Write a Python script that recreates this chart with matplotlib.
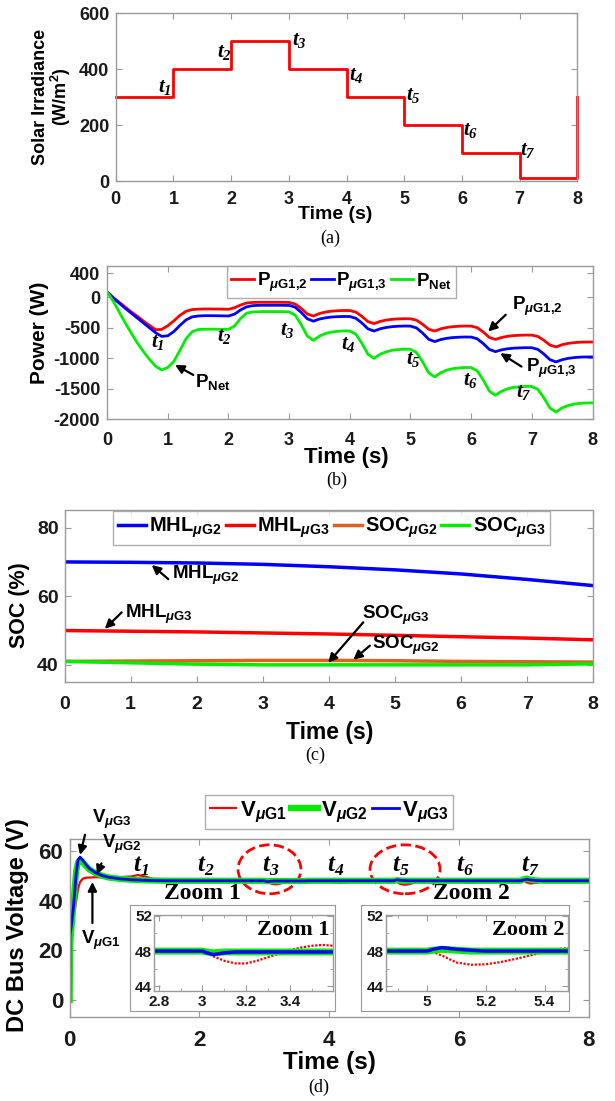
import numpy as np
import matplotlib
matplotlib.use("Agg")
import matplotlib.pyplot as plt
from matplotlib.patches import Ellipse

# -----------------------------
# Data
# -----------------------------
irr_time = [0, 1, 2, 3, 4, 5, 6, 7, 8]
irr_vals = [300, 400, 500, 400, 300, 200, 100, 10, 300]

power_time = np.round(np.arange(0, 8.01, 0.1), 1)
p_g12 = [90, 0, -80, -160, -240, -310, -390, -460, -530, -525,
         -465, -385, -295, -228, -200, -193, -190, -190, -191, -193,
         -195, -170, -125, -92, -83, -80, -80, -80, -80, -81,
         -82, -109, -182, -272, -305, -265, -240, -226, -219, -215,
         -216, -241, -312, -398, -430, -394, -372, -360, -353, -350,
         -351, -374, -441, -522, -552, -515, -493, -480, -473, -470,
         -471, -496, -569, -657, -690, -658, -638, -627, -621, -618,
         -619, -641, -705, -783, -812, -776, -754, -742, -735, -732,
         -732]
p_g13 = [90, -10, -95, -180, -260, -340, -420, -500, -580, -640,
         -630, -560, -460, -370, -320, -305, -300, -300, -301, -303,
         -305, -275, -205, -155, -135, -130, -129, -129, -129, -130,
         -131, -161, -247, -351, -390, -355, -335, -322, -316, -313,
         -314, -342, -421, -516, -552, -515, -493, -480, -473, -470,
         -471, -501, -585, -687, -725, -691, -671, -659, -653, -650,
         -651, -679, -758, -854, -890, -861, -843, -833, -828, -825,
         -826, -853, -930, -1023, -1058, -1022, -1000, -987, -980, -977,
         -977]
p_net = [90, -60, -240, -420, -590, -750, -890, -1020, -1130, -1190,
         -1150, -1050, -870, -680, -565, -528, -522, -521, -522, -524,
         -525, -470, -345, -258, -238, -235, -233, -233, -233, -235,
         -237, -291, -447, -635, -705, -635, -593, -569, -556, -550,
         -552, -604, -753, -933, -1000, -933, -892, -868, -856, -850,
         -852, -905, -1055, -1237, -1305, -1235, -1193, -1169, -1157, -1150,
         -1152, -1205, -1355, -1537, -1605, -1540, -1501, -1477, -1466, -1460,
         -1462, -1510, -1649, -1817, -1880, -1813, -1773, -1750, -1738, -1732,
         -1730]

soc_time = [0, 1, 2, 3, 4, 5, 6, 7, 8]
mhl_g2 = [70.0, 69.9, 69.7, 69.3, 68.6, 67.7, 66.5, 64.9, 63.1]
mhl_g3 = [50.0, 49.8, 49.6, 49.3, 49.0, 48.6, 48.2, 47.8, 47.3]
soc_g2 = [41.0, 41.1, 41.2, 41.3, 41.3, 41.2, 41.0, 40.9, 40.8]
soc_g3 = [41.0, 40.6, 40.2, 40.0, 40.0, 40.0, 40.0, 40.0, 40.3]

v_time = [0, 0.005, 0.03, 0.06, 0.1, 0.13, 0.16, 0.2, 0.25, 0.3,
          0.4, 0.5, 0.6, 0.8, 0.95, 1.05, 1.15, 1.3, 1.5, 1.95,
          2.05, 2.2, 2.5, 2.9, 3.0, 3.02, 3.05, 3.1, 3.15, 3.2,
          3.25, 3.3, 3.35, 3.4, 3.45, 3.5, 3.55, 3.6, 3.7, 3.9,
          4.0, 4.05, 4.15, 4.25, 4.35, 4.5, 4.9, 5.0, 5.02, 5.05,
          5.1, 5.15, 5.2, 5.25, 5.3, 5.35, 5.4, 5.45, 5.5, 5.6,
          5.8, 6.0, 6.05, 6.15, 6.25, 6.35, 6.5, 6.95, 7.0, 7.05,
          7.1, 7.2, 7.3, 7.5, 8.0]
v_g1 = [0, 18, 28, 33, 40, 45, 47.5, 48.8, 49.2, 49.3,
        49.4, 49.4, 49.4, 49.5, 49.7, 50.3, 49.8, 48.6, 48.0, 48.0,
        47.6, 47.9, 48.0, 48.0, 48.0, 47.8, 47.4, 46.9, 46.6, 46.6,
        46.9, 47.3, 47.7, 48.1, 48.4, 48.6, 48.7, 48.6, 48.3, 48.0,
        48.0, 47.5, 47.1, 47.3, 47.8, 48.1, 48.0, 48.0, 47.9, 47.5,
        46.7, 46.45, 46.5, 46.75, 47.1, 47.5, 47.9, 48.25, 48.4, 48.3,
        48.0, 48.0, 47.6, 47.2, 47.4, 47.8, 48.1, 48.0, 48.0, 47.3,
        46.9, 47.2, 47.8, 48.1, 48.0]
v_g2 = [0, 22, 30, 40, 52, 55.5, 56.2, 55.5, 54.0, 52.6,
        51.0, 50.0, 49.3, 48.7, 48.4, 48.3, 48.2, 48.1, 48.0, 48.0,
        48.0, 48.0, 48.0, 48.0, 48.0, 47.9, 47.8, 47.9, 47.9, 47.9,
        47.9, 47.9, 47.9, 47.9, 47.9, 47.9, 47.9, 47.9, 48.0, 48.0,
        48.0, 48.0, 48.0, 48.0, 48.0, 48.0, 48.0, 48.0, 48.1, 48.2,
        48.1, 48.0, 48.0, 48.0, 48.0, 48.0, 48.0, 48.0, 48.0, 48.0,
        48.0, 48.0, 48.0, 48.0, 48.0, 48.0, 48.0, 48.0, 48.6, 48.9,
        48.4, 48.1, 48.0, 48.0, 48.0]
v_g3 = [0, 26, 31, 38, 51, 56.5, 57.5, 56.3, 54.5, 53.0,
        51.2, 50.1, 49.4, 48.7, 48.4, 48.3, 48.2, 48.1, 48.0, 48.0,
        48.0, 48.0, 48.0, 48.0, 48.0, 47.8, 47.6, 47.8, 47.9, 47.9,
        47.9, 47.9, 47.9, 47.9, 47.9, 47.9, 47.9, 47.9, 48.0, 48.0,
        48.0, 48.0, 48.0, 48.0, 48.0, 48.0, 48.0, 48.0, 48.2, 48.4,
        48.2, 48.1, 48.0, 48.0, 48.0, 48.0, 48.0, 48.0, 48.0, 48.0,
        48.0, 48.0, 48.0, 48.0, 48.0, 48.0, 48.0, 48.0, 48.3, 48.6,
        48.3, 48.1, 48.0, 48.0, 48.0]

# -----------------------------
# Style
# -----------------------------
plt.rcParams["font.family"] = "Liberation Sans"
plt.rcParams["font.weight"] = "bold"
plt.rcParams["axes.labelweight"] = "bold"
plt.rcParams["axes.unicode_minus"] = False
plt.rcParams["mathtext.fontset"] = "custom"
plt.rcParams["mathtext.rm"] = "Liberation Sans:bold"
plt.rcParams["mathtext.bf"] = "Liberation Sans:bold"
plt.rcParams["mathtext.it"] = "Liberation Sans:italic:bold"
plt.rcParams["mathtext.sf"] = "Liberation Serif:italic:bold"

GRAY = "#9a9a9a"
RED, BLUE, GREEN, ORANGE = "#ff0000", "#0000ff", "#00ee00", "#e0601e"
W, H = 615, 1101

fig = plt.figure(figsize=(6.15, 11.01), dpi=100)


def px_axes(left, top, right, bottom):
    return fig.add_axes([left / W, 1 - bottom / H, (right - left) / W, (bottom - top) / H])


def style(ax, size, xpad, ypad):
    ax.tick_params(direction="in", top=True, right=True, length=4, width=0.8,
                   color=GRAY, labelsize=size, labelcolor="#1a1a1a")
    ax.tick_params(axis="x", pad=xpad)
    ax.tick_params(axis="y", pad=ypad)
    for t in ax.get_xticklabels() + ax.get_yticklabels():
        t.set_fontweight("bold")
    for s in ax.spines.values():
        s.set_color(GRAY)
        s.set_linewidth(1.0)


def arrow(ax, head, tail, lw=1.6):
    ax.annotate("", xy=head, xytext=tail, annotation_clip=False,
                arrowprops=dict(arrowstyle="-|>", color="black", lw=lw,
                                mutation_scale=13, shrinkA=0, shrinkB=0))


def caption(x, y, s):
    fig.text(x / W, 1 - y / H, s, family="Liberation Serif", weight="normal",
             size=13, ha="center", va="center")


tsub = [r"$\mathsf{t}_{\mathsf{%d}}$" % k for k in range(1, 8)]

# -----------------------------
# (a) Solar irradiance
# -----------------------------
ax = px_axes(115.7, 13, 577.3, 181)
ax.step(irr_time, irr_vals, where="post", color=RED, lw=2, clip_on=False)
ax.set_xlim(0, 8)
ax.set_ylim(0, 600)
ax.set_yticks([0, 200, 400, 600])
style(ax, 13, 7.5, 4.5)
ax.set_xlabel("Time (s)", fontsize=14)
ax.set_ylabel("Solar Irradiance\n(W/m$^\\mathrm{2}$)", fontsize=13, linespacing=1.0)
ax.yaxis.set_label_coords(-0.0925, 0.5)
ax.xaxis.set_label_coords(0.475, -0.15)
ta_pos = [(0.86, 331), (1.88, 456), (3.18, 497), (4.17, 372), (5.16, 301), (6.15, 176), (7.14, 105)]
for lab, (x, y) in zip(tsub, ta_pos):
    ax.text(x, y, lab, fontsize=15, ha="center", va="center")
caption(330, 238, "(a)")

# -----------------------------
# (b) Power
# -----------------------------
ax = px_axes(107.1, 265.7, 592.5, 419.3)
ax.plot(power_time, p_g12, color=RED, lw=2, label="P$_{\\mathit{μ}\\mathrm{G1{,}2}}$")
ax.plot(power_time, p_g13, color=BLUE, lw=2, label="P$_{\\mathit{μ}\\mathrm{G1{,}3}}$")
ax.plot(power_time, p_net, color=GREEN, lw=2, label="P$_{\\mathrm{Net}}$")
ax.set_xlim(0, 8)
ax.set_ylim(-2000, 520)
ax.set_yticks([400, 0, -500, -1000, -1500, -2000])
style(ax, 13, 9, 5)
ax.set_xlabel("Time (s)", fontsize=16)
ax.set_ylabel("Power (W)", fontsize=15)
ax.yaxis.set_label_coords(-0.12, 0.56)
ax.xaxis.set_label_coords(0.493, -0.18)
ax.legend(loc="upper center", bbox_to_anchor=(0.483, 1.0), ncol=3, fontsize=13.5,
          frameon=True, fancybox=False, edgecolor=GRAY, borderaxespad=0,
          handlelength=1.2, handletextpad=0.15, columnspacing=0.2, borderpad=0.25)
tb_pos = [(0.83, -751), (1.93, -652), (2.97, -560), (3.98, -779), (5.05, -1036), (5.99, -1382), (6.87, -1573)]
for lab, (x, y) in zip(tsub, tb_pos):
    ax.text(x, y, lab, fontsize=15, ha="center", va="center")
arrow(ax, (1.12, -1107), (1.42, -1272))
ax.text(1.45, -1382, "P$_{\\mathrm{Net}}$", fontsize=13.5, ha="left", va="center")
arrow(ax, (6.28, -560), (6.57, -285))
ax.text(6.67, -149, "P$_{\\mathit{μ}\\mathrm{G1{,}2}}$", fontsize=13.5, ha="left", va="center")
arrow(ax, (6.48, -915), (6.83, -1135))
ax.text(6.9, -1162, "P$_{\\mathit{μ}\\mathrm{G1{,}3}}$", fontsize=13.5, ha="left", va="center")
caption(336.6, 480, "(b)")

# -----------------------------
# (c) SOC / MHL
# -----------------------------
ax = px_axes(64.5, 510.5, 593.3, 682)
ax.plot(soc_time, mhl_g2, color=BLUE, lw=2.5, label="MHL$_{\\mathit{μ}\\mathrm{G2}}$")
ax.plot(soc_time, mhl_g3, color=RED, lw=2.5, label="MHL$_{\\mathit{μ}\\mathrm{G3}}$")
ax.plot(soc_time, soc_g2, color=ORANGE, lw=2.5, label="SOC$_{\\mathit{μ}\\mathrm{G2}}$")
ax.plot(soc_time, soc_g3, color=GREEN, lw=2.5, label="SOC$_{\\mathit{μ}\\mathrm{G3}}$")
ax.set_xlim(0, 8)
ax.set_ylim(35, 85)
ax.set_yticks([40, 60, 80])
style(ax, 14, 10, 4.3)
ax.set_xlabel("Time (s)", fontsize=16.5)
ax.set_ylabel("SOC (%)", fontsize=15.5)
ax.yaxis.set_label_coords(-0.066, 0.449)
ax.xaxis.set_label_coords(0.502, -0.225)
ax.legend(loc="upper center", bbox_to_anchor=(0.505, 1.0), ncol=4, fontsize=14.5,
          frameon=True, fancybox=False, edgecolor=GRAY, borderaxespad=0,
          handlelength=1.4, handletextpad=0.15, columnspacing=0.2, borderpad=0.25)
arrow(ax, (1.32, 69.1), (1.57, 65.0))
ax.text(1.62, 66.0, "MHL$_{\\mathit{μ}\\mathrm{G2}}$", fontsize=13.5, ha="left", va="center")
arrow(ax, (0.61, 50.5), (0.865, 55.3))
ax.text(0.915, 54.8, "MHL$_{\\mathit{μ}\\mathrm{G3}}$", fontsize=13.5, ha="left", va="center")
arrow(ax, (3.99, 40.6), (4.52, 52.4))
ax.text(4.5, 54.4, "SOC$_{\\mathit{μ}\\mathrm{G3}}$", fontsize=13.5, ha="left", va="center")
arrow(ax, (4.37, 41.5), (4.62, 45.6))
ax.text(4.65, 45.6, "SOC$_{\\mathit{μ}\\mathrm{G2}}$", fontsize=13.5, ha="left", va="center")
caption(315, 755, "(c)")

# -----------------------------
# (d) DC bus voltage
# -----------------------------
ax = px_axes(69.7, 838.5, 588.6, 1016.7)
ax.plot(v_time, v_g1, color=RED, lw=1.6, label="V$_{\\mathit{μ}\\mathrm{G1}}$")
ax.plot(v_time, v_g2, color=GREEN, lw=4.5, label="V$_{\\mathit{μ}\\mathrm{G2}}$")
ax.plot(v_time, v_g3, color=BLUE, lw=2, label="V$_{\\mathit{μ}\\mathrm{G3}}$")
ax.set_xlim(0, 8)
ax.set_ylim(-6.7, 65)
ax.set_yticks([0, 20, 40, 60])
style(ax, 16, 9.6, 4.8)
ax.set_xlabel("Time (s)", fontsize=17.5)
ax.set_ylabel("DC Bus Voltage (V)", fontsize=17)
ax.yaxis.set_label_coords(-0.0775, 0.517)
ax.xaxis.set_label_coords(0.5015, -0.19)
ax.legend(loc="lower center", bbox_to_anchor=(0.5, 1.053), ncol=3, fontsize=16,
          frameon=True, fancybox=False, edgecolor=GRAY, borderaxespad=0,
          handlelength=1.2, handletextpad=0.15, columnspacing=0.2, borderpad=0.2)
for k, lab in enumerate(tsub):
    ax.text(k + 1.1, 53.8, lab, fontsize=18, ha="center", va="center")
for cx in (3.08, 5.17):
    ax.add_patch(Ellipse((cx, 52.6), 0.97 if cx < 4 else 1.08, 19.7, fill=False,
                         ec=RED, ls="--", lw=2))
ax.text(2.05, 42.9, "Zoom 1", family="Liberation Serif", fontsize=17, ha="center", va="center")
ax.text(6.2, 42.9, "Zoom 2", family="Liberation Serif", fontsize=17, ha="center", va="center")
arrow(ax, (0.16, 58.4), (0.236, 66.5))
ax.text(0.34, 72.5, "V$_{\\mathit{μ}\\mathrm{G3}}$", fontsize=13.5, ha="left", va="center")
arrow(ax, (0.42, 50.5), (0.49, 55.0))
ax.text(0.5, 62.5, "V$_{\\mathit{μ}\\mathrm{G2}}$", fontsize=13.5, ha="left", va="center")
arrow(ax, (0.35, 47.5), (0.35, 31.0))
ax.text(0.17, 24.2, "V$_{\\mathit{μ}\\mathrm{G1}}$", fontsize=13.5, ha="left", va="center")
caption(319, 1087, "(d)")

# insets
insets = [((130.3, 905, 335, 1010.5), (154.3, 915, 332.5, 990.7), (2.78, 3.595),
           [2.8, 3.0, 3.2, 3.4], ["2.8", "3", "3.2", "3.4"], [2.9, 3.1, 3.3, 3.5], "Zoom 1"),
          ((361, 905, 569, 1010.5), (386, 915, 568, 990.7), (4.86, 5.48),
           [5.0, 5.2, 5.4], ["5", "5.2", "5.4"], [4.9, 5.1, 5.3], "Zoom 2")]
for box, pos, xl, xt, xtl, xmin, name in insets:
    bx = px_axes(*box)
    bx.set_xticks([])
    bx.set_yticks([])
    for s in bx.spines.values():
        s.set_color(GRAY)
    ins = px_axes(*pos)
    ins.plot(v_time, v_g1, color=RED, lw=1.6, ls=(0, (1, 0.7)))
    ins.plot(v_time, v_g2, color=GREEN, lw=5)
    ins.plot(v_time, v_g3, color=BLUE, lw=2.5)
    ins.set_xlim(*xl)
    ins.set_ylim(43.5, 52.1)
    ins.set_xticks(xt)
    ins.set_xticklabels(xtl)
    ins.set_xticks(xmin, minor=True)
    ins.set_yticks([44, 48, 52])
    ins.set_yticks([46, 50], minor=True)
    style(ins, 11, 3, 1.5)
    ins.tick_params(which="minor", direction="in", top=True, right=True, length=2.5, color=GRAY)
    ins.text(0.78, 0.8, name, transform=ins.transAxes, family="Liberation Serif",
             fontsize=16, ha="center", va="center")

fig.savefig("out.png", dpi=100)
